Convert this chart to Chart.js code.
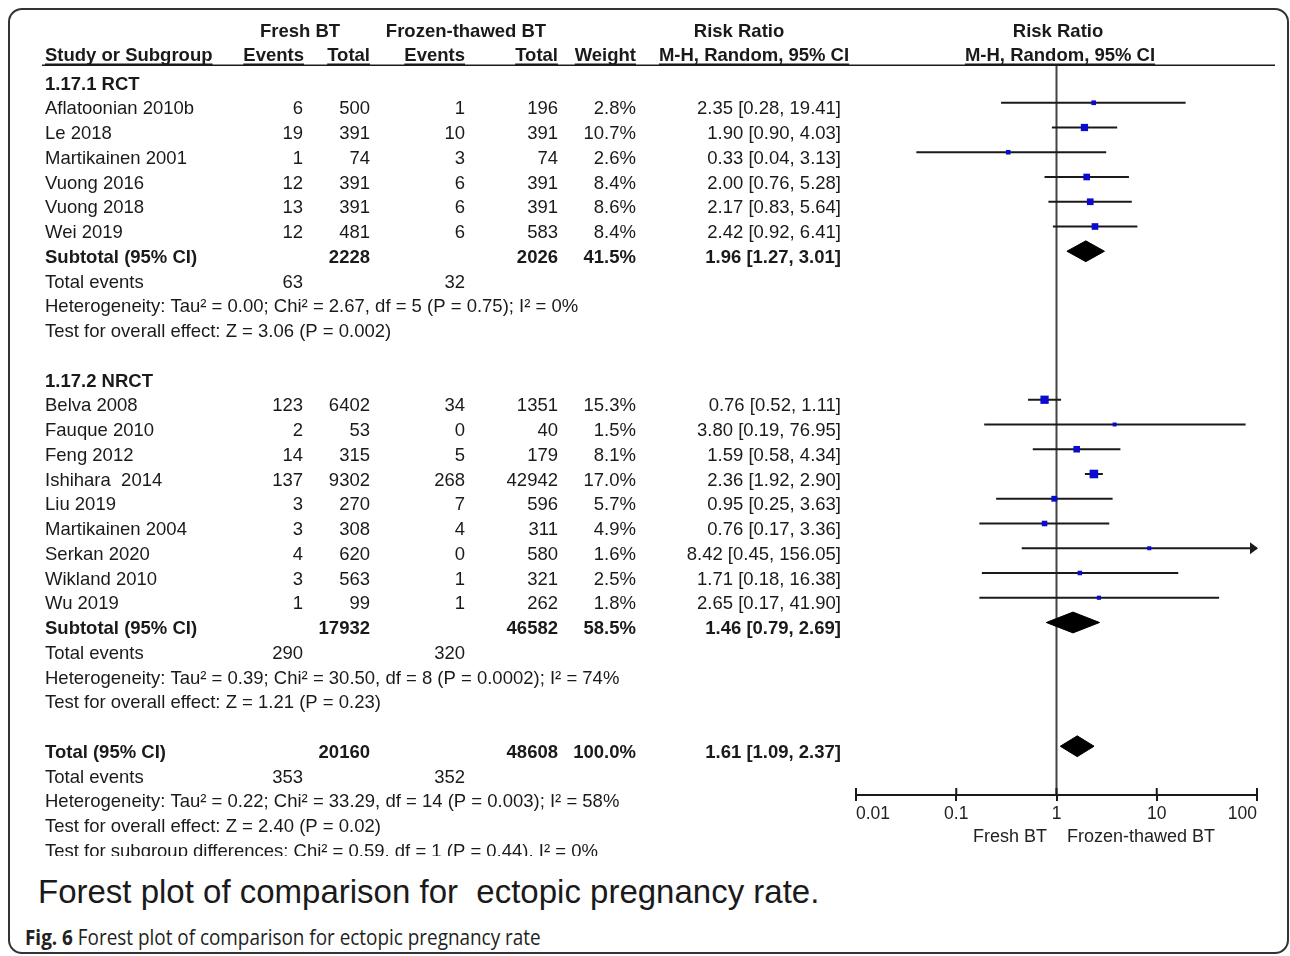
<!DOCTYPE html>
<html>
<head>
<meta charset="utf-8">
<script src="https://cdn.jsdelivr.net/npm/chart.js@4.4.1/dist/chart.umd.min.js"></script>
<style>
  html, body { margin: 0; padding: 0; background: #fff; }
  body { width: 1290px; height: 956px; position: relative; overflow: hidden; font-family: 'Liberation Sans', Arial, sans-serif; color: #1a1a1a; }
  .moldura { position: absolute; left: 8px; top: 8px; width: 1281px; height: 946px; border: 2px solid #333; border-radius: 14px; box-sizing: border-box; }
  #zona { position: absolute; left: 0; top: 0; width: 1290px; height: 856px; overflow: hidden; }
  .legenda { position: absolute; left: 38px; top: 872px; font-size: 33px; line-height: 40px; white-space: pre; }
  .fig { position: absolute; left: 25px; top: 924px; font-size: 21px; line-height: 26px; white-space: pre; font-family: 'Open Sans', sans-serif; color: #222; transform: scaleX(0.9); transform-origin: left center; }
</style>
</head>
<body>
<div class="moldura"></div>
<div id="zona"><canvas id="grafico" width="1290" height="856"></canvas></div>
<div class="legenda">Forest plot of comparison for  ectopic pregnancy rate.</div>
<div class="fig"><b>Fig. 6</b> Forest plot of comparison for ectopic pregnancy rate</div>
<script>
// Dados dos estudos
const estudos = ['Aflatoonian 2010b', 'Le 2018', 'Martikainen 2001', 'Vuong 2016', 'Vuong 2018', 'Wei 2019',
  'Belva 2008', 'Fauque 2010', 'Feng 2012', 'Ishihara  2014', 'Liu 2019', 'Martikainen 2004', 'Serkan 2020', 'Wikland 2010', 'Wu 2019'];
const grupoEstudo = [0, 0, 0, 0, 0, 0, 1, 1, 1, 1, 1, 1, 1, 1, 1];
const eventosFresco = [6, 19, 1, 12, 13, 12, 123, 2, 14, 137, 3, 3, 4, 3, 1];
const totalFresco = [500, 391, 74, 391, 391, 481, 6402, 53, 315, 9302, 270, 308, 620, 563, 99];
const eventosCongelado = [1, 10, 3, 6, 6, 6, 34, 0, 5, 268, 7, 4, 0, 1, 1];
const totalCongelado = [196, 391, 74, 391, 391, 583, 1351, 40, 179, 42942, 596, 311, 580, 321, 262];
const pesos = [2.8, 10.7, 2.6, 8.4, 8.6, 8.4, 15.3, 1.5, 8.1, 17.0, 5.7, 4.9, 1.6, 2.5, 1.8];
const rr = [2.35, 1.90, 0.33, 2.00, 2.17, 2.42, 0.76, 3.80, 1.59, 2.36, 0.95, 0.76, 8.42, 1.71, 2.65];
const icInf = [0.28, 0.90, 0.04, 0.76, 0.83, 0.92, 0.52, 0.19, 0.58, 1.92, 0.25, 0.17, 0.45, 0.18, 0.17];
const icSup = [19.41, 4.03, 3.13, 5.28, 5.64, 6.41, 1.11, 76.95, 4.34, 2.90, 3.63, 3.36, 156.05, 16.38, 41.90];

// Subgrupos
const subgrupos = ['1.17.1 RCT', '1.17.2 NRCT'];
const subTotalFresco = [2228, 17932];
const subTotalCongelado = [2026, 46582];
const subPeso = [41.5, 58.5];
const subRR = [1.96, 1.46];
const subInf = [1.27, 0.79];
const subSup = [3.01, 2.69];
const subEventosFresco = [63, 290];
const subEventosCongelado = [32, 320];
const subHeterog = ['Heterogeneity: Tau² = 0.00; Chi² = 2.67, df = 5 (P = 0.75); I² = 0%',
  'Heterogeneity: Tau² = 0.39; Chi² = 30.50, df = 8 (P = 0.0002); I² = 74%'];
const subEfeito = ['Test for overall effect: Z = 3.06 (P = 0.002)', 'Test for overall effect: Z = 1.21 (P = 0.23)'];

// Total geral
const geralTotais = [20160, 48608];
const geralPeso = 100.0;
const geralRR = [1.61, 1.09, 2.37];
const geralEventos = [353, 352];
const geralTextos = ['Heterogeneity: Tau² = 0.22; Chi² = 33.29, df = 14 (P = 0.003); I² = 58%',
  'Test for overall effect: Z = 2.40 (P = 0.02)',
  'Test for subgroup differences: Chi² = 0.59, df = 1 (P = 0.44), I² = 0%'];

// Eixo
const marcasEixo = [0.01, 0.1, 1, 10, 100];
const rotulosLados = ['Fresh BT', 'Frozen-thawed BT'];

// Monta as linhas da tabela
const linhas = [];
const linhaEstudo = [];
const linhaSub = [];
let k = 0;
subgrupos.forEach((nome, g) => {
  linhas.push({ tipo: 'grupo', g, k: k++ });
  grupoEstudo.forEach((gg, i) => {
    if (gg === g) { linhaEstudo[i] = k; linhas.push({ tipo: 'estudo', i, k: k++ }); }
  });
  linhaSub[g] = k;
  linhas.push({ tipo: 'subtotal', g, k: k++ });
  linhas.push({ tipo: 'eventos', g, k: k++ });
  linhas.push({ tipo: 'heterog', g, k: k++ });
  linhas.push({ tipo: 'efeito', g, k: k++ });
  k++; // linha em branco
});
const linhaTotal = k;
linhas.push({ tipo: 'total', k: k++ });
linhas.push({ tipo: 'eventosTotal', k: k++ });
geralTextos.forEach(t => linhas.push({ tipo: 'texto', t, k: k++ }));

const xMin = marcasEixo[0];
const xMax = marcasEixo[marcasEixo.length - 1];
const fmt = v => v.toFixed(2);
const textoIC = (a, b, c) => `${fmt(a)} [${fmt(b)}, ${fmt(c)}]`;

// Datasets do gráfico
const AZUL = '#0a0ad0';
const PRETO = '#1a1a1a';
const datasets = [];

datasets.push({
  label: 'estimativas',
  data: rr.map((v, i) => ({ x: v, y: linhaEstudo[i] })),
  pointStyle: 'rect',
  pointRadius: pesos.map(w => (2 + 1.6 * Math.sqrt(w)) / Math.SQRT2),
  backgroundColor: AZUL,
  borderColor: AZUL,
  borderWidth: 0,
  order: 0
});

// Losangos (subtotais e total)
const losangos = subRR.map((v, g) => [subInf[g], v, subSup[g], linhaSub[g]]);
losangos.push([geralRR[1], geralRR[0], geralRR[2], linhaTotal]);
losangos.forEach(([a, m, b, r]) => {
  datasets.push({
    label: 'losango',
    data: [{ x: a, y: r }, { x: m, y: r - 0.42 }, { x: b, y: r }, { x: m, y: r + 0.42 }, { x: a, y: r }],
    showLine: true,
    fill: 'shape',
    backgroundColor: '#000',
    borderColor: '#000',
    borderWidth: 1,
    pointRadius: 0,
    tension: 0,
    order: 0
  });
});

// Intervalos de confiança
rr.forEach((v, i) => {
  datasets.push({
    label: 'ic',
    data: [{ x: Math.max(icInf[i], xMin), y: linhaEstudo[i] }, { x: Math.min(icSup[i], xMax), y: linhaEstudo[i] }],
    showLine: true,
    borderColor: PRETO,
    borderWidth: 2,
    pointRadius: 0,
    order: 1
  });
});

// Linha vertical de nulidade
datasets.push({
  label: 'nulo',
  data: [{ x: 1, y: -0.525 }, { x: 1, y: 28.97 }],
  showLine: true,
  borderColor: '#444',
  borderWidth: 2,
  pointRadius: 0,
  order: 2
});

const FONTE = '"Liberation Sans", Arial, sans-serif';

// Plugin que escreve a tabela e os detalhes do eixo
const tabela = {
  id: 'tabela',
  afterDraw(chart) {
    const ctx = chart.ctx;
    const ys = chart.scales.y;
    const xs = chart.scales.x;
    const py = r => ys.getPixelForValue(r) + 6.5;
    ctx.save();
    ctx.fillStyle = PRETO;
    ctx.textBaseline = 'middle';

    const escreve = (s, x, y, align, negrito, sublinha) => {
      ctx.font = (negrito ? 'bold ' : '') + '18.5px ' + FONTE;
      ctx.textAlign = align;
      ctx.fillText(s, x, y);
      if (sublinha) {
        const w = ctx.measureText(s).width;
        const x0 = align === 'right' ? x - w : align === 'center' ? x - w / 2 : x;
        ctx.fillRect(x0, y + 7.5, w, 1.5);
      }
    };

    // Cabeçalho
    escreve('Fresh BT', 300, 32, 'center', true);
    escreve('Frozen-thawed BT', 466, 32, 'center', true);
    escreve('Risk Ratio', 739, 32, 'center', true);
    escreve('Risk Ratio', 1058, 32, 'center', true);
    escreve('Study or Subgroup', 45, 56, 'left', true, true);
    escreve('Events', 304, 56, 'right', true, true);
    escreve('Total', 370, 56, 'right', true, true);
    escreve('Events', 465, 56, 'right', true, true);
    escreve('Total', 558, 56, 'right', true, true);
    escreve('Weight', 636, 56, 'right', true, true);
    escreve('M-H, Random, 95% CI', 754, 56, 'center', true, true);
    escreve('M-H, Random, 95% CI', 1060, 56, 'center', true, true);
    ctx.fillRect(42, 64.5, 1233, 1.5);

    const col = { evF: 303, totF: 370, evC: 465, totC: 558, peso: 636, ic: 841 };
    linhas.forEach(l => {
      const y = py(l.k);
      if (l.tipo === 'grupo') escreve(subgrupos[l.g], 45, y, 'left', true);
      else if (l.tipo === 'estudo') {
        const i = l.i;
        escreve(estudos[i], 45, y, 'left');
        escreve(String(eventosFresco[i]), col.evF, y, 'right');
        escreve(String(totalFresco[i]), col.totF, y, 'right');
        escreve(String(eventosCongelado[i]), col.evC, y, 'right');
        escreve(String(totalCongelado[i]), col.totC, y, 'right');
        escreve(pesos[i].toFixed(1) + '%', col.peso, y, 'right');
        escreve(textoIC(rr[i], icInf[i], icSup[i]), col.ic, y, 'right');
      } else if (l.tipo === 'subtotal') {
        const g = l.g;
        escreve('Subtotal (95% CI)', 45, y, 'left', true);
        escreve(String(subTotalFresco[g]), col.totF, y, 'right', true);
        escreve(String(subTotalCongelado[g]), col.totC, y, 'right', true);
        escreve(subPeso[g].toFixed(1) + '%', col.peso, y, 'right', true);
        escreve(textoIC(subRR[g], subInf[g], subSup[g]), col.ic, y, 'right', true);
      } else if (l.tipo === 'eventos') {
        escreve('Total events', 45, y, 'left');
        escreve(String(subEventosFresco[l.g]), col.evF, y, 'right');
        escreve(String(subEventosCongelado[l.g]), col.evC, y, 'right');
      } else if (l.tipo === 'heterog') escreve(subHeterog[l.g], 45, y, 'left');
      else if (l.tipo === 'efeito') escreve(subEfeito[l.g], 45, y, 'left');
      else if (l.tipo === 'total') {
        escreve('Total (95% CI)', 45, y, 'left', true);
        escreve(String(geralTotais[0]), col.totF, y, 'right', true);
        escreve(String(geralTotais[1]), col.totC, y, 'right', true);
        escreve(geralPeso.toFixed(1) + '%', col.peso, y, 'right', true);
        escreve(textoIC(geralRR[0], geralRR[1], geralRR[2]), col.ic, y, 'right', true);
      } else if (l.tipo === 'eventosTotal') {
        escreve('Total events', 45, y, 'left');
        escreve(String(geralEventos[0]), col.evF, y, 'right');
        escreve(String(geralEventos[1]), col.evC, y, 'right');
      } else if (l.tipo === 'texto') escreve(l.t, 45, y, 'left');
    });

    // Marcas do eixo para cima
    const base = chart.chartArea.bottom;
    ctx.fillStyle = PRETO;
    marcasEixo.forEach(v => {
      const x = xs.getPixelForValue(v);
      ctx.fillRect(x - 1, base - 7, 2, 7);
    });

    // Setas para IC que passam do eixo
    icSup.forEach((s, i) => {
      if (s <= xMax) return;
      const x = xs.getPixelForValue(xMax);
      const y = ys.getPixelForValue(linhaEstudo[i]);
      ctx.beginPath();
      ctx.moveTo(x + 1, y);
      ctx.lineTo(x - 7, y - 6);
      ctx.lineTo(x - 7, y + 6);
      ctx.closePath();
      ctx.fill();
    });

    // Rótulos dos lados
    ctx.font = '18px ' + FONTE;
    ctx.fillStyle = '#222';
    ctx.textAlign = 'center';
    ctx.fillText(rotulosLados[0], 1010, 837);
    ctx.fillText(rotulosLados[1], 1141, 837);
    ctx.restore();
  }
};

new Chart(document.getElementById('grafico'), {
  type: 'scatter',
  data: { datasets },
  plugins: [tabela],
  options: {
    responsive: false,
    animation: false,
    events: [],
    clip: false,
    layout: { padding: { left: 856, right: 33, top: 65, bottom: 21 } },
    plugins: { legend: { display: false }, tooltip: { enabled: false } },
    scales: {
      x: {
        type: 'logarithmic',
        min: xMin,
        max: xMax,
        afterBuildTicks: scale => { scale.ticks = marcasEixo.map(v => ({ value: v })); },
        afterFit: scale => { scale.height = 40; },
        ticks: {
          autoSkip: false,
          maxRotation: 0,
          align: 'inner',
          padding: 3,
          color: '#222',
          font: { family: FONTE, size: 17.5 },
          callback: v => String(v)
        },
        grid: { drawOnChartArea: false, drawTicks: true, tickLength: 6, color: PRETO, lineWidth: 2 },
        border: { display: true, color: PRETO, width: 2 }
      },
      y: {
        type: 'linear',
        reverse: true,
        min: -0.525,
        max: 28.97,
        display: false
      }
    }
  }
});
</script>
</body>
</html>
